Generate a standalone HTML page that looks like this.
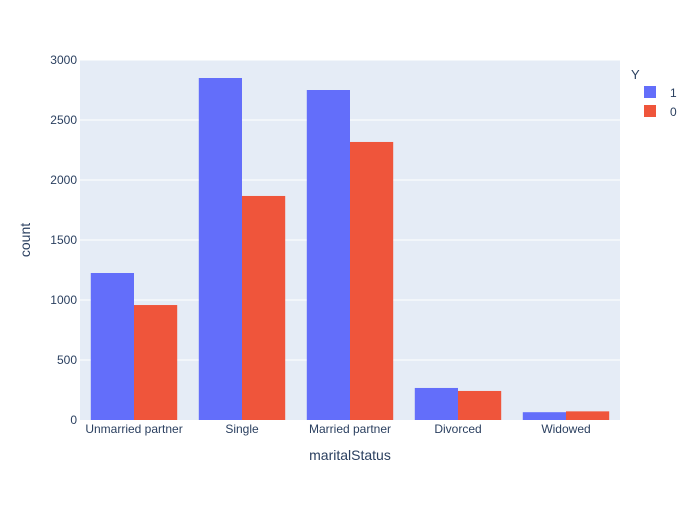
<!DOCTYPE html>
<html><head><meta charset="utf-8"><style>
body{margin:0;background:#fff;font-family:"Liberation Sans",sans-serif;}
svg text{font-family:"Liberation Sans",sans-serif;fill:#2a3f5f;}
</style></head><body>
<svg id="chart" width="700" height="500">
<rect x="80" y="60" width="540" height="360" fill="#e5ecf6"/>
<g id="grid"></g><g id="bars"></g><g id="ticks"></g>
<text x="350" y="460" text-anchor="middle" font-size="14">maritalStatus</text>
<text transform="translate(30,240) rotate(-90)" text-anchor="middle" font-size="14">count</text>
<g>
<text x="631" y="79" font-size="13">Y</text>
<g><rect x="644" y="86" width="12" height="12" fill="#636efa"/><text x="670" y="97" font-size="12">1</text></g>
<g><rect x="644" y="105" width="12" height="12" fill="#EF553B"/><text x="670" y="116" font-size="12">0</text></g>
</g>
</svg>
<script>
const categories=["Unmarried partner","Single","Married partner","Divorced","Widowed"];
const series1=[1225,2850,2750,267,65];
const series0=[958,1867,2317,242,72];
const yTicks=[0,500,1000,1500,2000,2500,3000];
const NS="http://www.w3.org/2000/svg";
const x0=80,w=540,y0=420,h=360,ymax=3000;
const y=v=>y0-v/ymax*h;
const band=w/categories.length;
const g=document.getElementById('grid'),b=document.getElementById('bars'),t=document.getElementById('ticks');
function mk(tag,attrs,parent){const e=document.createElementNS(NS,tag);for(const k in attrs)e.setAttribute(k,attrs[k]);parent.appendChild(e);return e;}
yTicks.forEach(v=>{
 if(v>0){const l=mk('line',{x1:x0,x2:x0+w,y1:y(v),y2:y(v),stroke:'#fff','stroke-width':1},g);
 
 }
 const tx=mk('text',{x:x0-3,y:y(v)+4,'text-anchor':'end','font-size':12},t);tx.textContent=v;
 
 
});
categories.forEach((c,i)=>{
 const bw=band*0.8/2,start=x0+i*band+band*0.1;
 const r1=mk('rect',{x:start,y:y(series1[i]),width:bw,height:y0-y(series1[i]),fill:'#636efa'},b);
 
 
 const r0=mk('rect',{x:start+bw,y:y(series0[i]),width:bw,height:y0-y(series0[i]),fill:'#EF553B'},b);
 
 
 const tx=mk('text',{x:x0+i*band+band/2,y:y0+13,'text-anchor':'middle','font-size':12},t);tx.textContent=c;
 
 
});
</script>
</body></html>
